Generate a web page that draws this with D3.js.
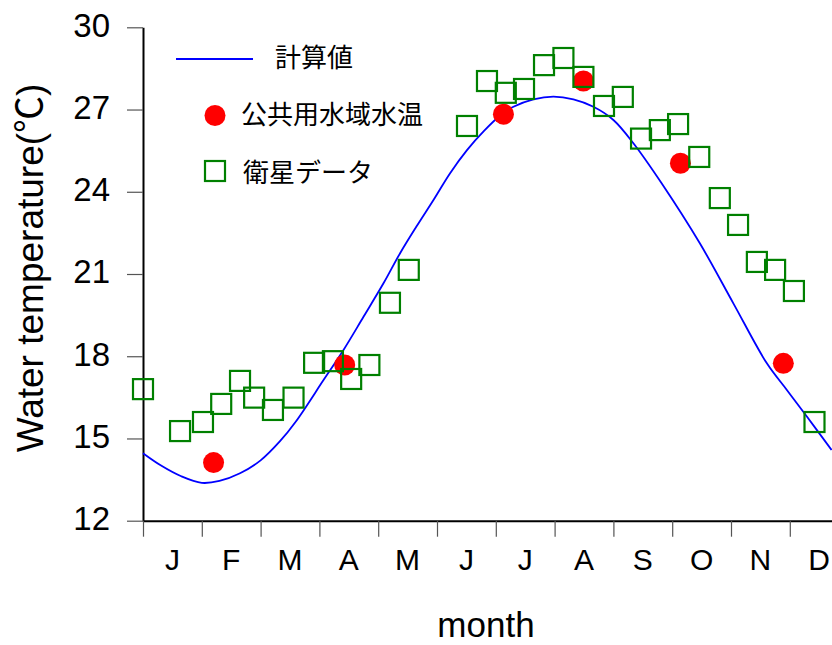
<!DOCTYPE html>
<html>
<head>
<meta charset="utf-8">
<script src="https://cdn.jsdelivr.net/npm/d3@7"></script>
<style>
  html, body { margin: 0; padding: 0; background: #fff; }
  svg { display: block; }
  text { font-family: "Liberation Sans", Arial, "Noto Sans CJK JP", sans-serif; fill: #000; }
  .jp { font-family: "Noto Sans CJK JP", sans-serif; }
</style>
</head>
<body>
<svg id="chart" width="832" height="645"></svg>
<script>
// Month initials along the x axis
const monthLabels = ["J", "F", "M", "A", "M", "J", "J", "A", "S", "O", "N", "D"];
// Temperature ticks (°C)
const tempTicks = [12, 15, 18, 21, 24, 27, 30];

// 計算値: computed water temperature, month position (0 = 1 Jan) and °C
const calcMonth = [0.00, 0.30, 0.65, 1.00, 1.30, 1.65, 2.00, 2.33, 2.60, 3.07, 3.41, 3.75, 4.09,
                   4.37, 4.65, 4.94, 5.22, 5.51, 5.80, 6.08, 6.30, 6.64, 6.98, 7.32, 7.66, 8.00,
                   8.34, 8.82, 9.47, 10.04, 10.61, 10.95, 11.29, 11.71];
const calcTemp  = [14.46, 14.02, 13.62, 13.38, 13.45, 13.73, 14.20, 14.90, 15.62, 17.13, 18.23, 19.44, 20.66,
                   21.75, 22.73, 23.70, 24.67, 25.52, 26.22, 26.79, 27.10, 27.37, 27.47, 27.37, 27.10, 26.62,
                   25.77, 24.31, 22.12, 19.93, 17.74, 16.77, 15.80, 14.58];

// 公共用水域水温: public water body measurements
const obsMonth = [1.20, 3.43, 6.13, 7.49, 9.14, 10.89];
const obsTemp  = [14.12, 17.68, 26.83, 28.04, 25.04, 17.74];

// 衛星データ: satellite-derived temperature
const satMonth = [0.00, 0.63, 1.02, 1.33, 1.65, 1.89, 2.21, 2.56, 2.91, 3.23, 3.54, 3.85, 4.20, 4.52,
                  5.51, 5.85, 6.17, 6.48, 6.82, 7.15, 7.49, 7.84, 8.16, 8.47, 8.79, 9.10, 9.46, 9.81,
                  10.12, 10.44, 10.75, 11.07, 11.42];
const satTemp  = [16.80, 15.27, 15.60, 16.26, 17.10, 16.49, 16.04, 16.49, 17.76, 17.82, 17.17, 17.68, 19.95, 21.15,
                  26.40, 28.04, 27.61, 27.75, 28.62, 28.88, 28.19, 27.13, 27.46, 25.94, 26.25, 26.47, 25.27, 23.77,
                  22.79, 21.44, 21.15, 20.38, 15.60];

const svg = d3.select("#chart");

const x = d3.scaleLinear().domain([0, 12]).range([143, 848.6]);
const y = d3.scaleLinear().domain([12, 30]).range([520.7, 27.3]);

// y axis
const yAxis = svg.append("g")
  .attr("transform", `translate(${x(0)},0)`)
  .call(d3.axisLeft(y).tickValues(tempTicks).tickSize(16).tickSizeOuter(0).tickPadding(17));
yAxis.select(".domain").attr("stroke", "#000").attr("stroke-width", 2);
yAxis.selectAll(".tick line").attr("stroke", "#555").attr("stroke-width", 1.2);
yAxis.selectAll(".tick text")
  .attr("font-size", 33).attr("font-family", "Liberation Sans, Arial, sans-serif")
  .attr("fill", "#000").attr("dy", "0.27em");

// x axis: month boundaries as ticks, initials centred in each month
const xAxis = svg.append("g")
  .attr("transform", `translate(0,${y(12)})`)
  .call(d3.axisBottom(x).tickValues(d3.range(0, 12)).tickSize(16).tickSizeOuter(0).tickFormat(""));
xAxis.select(".domain").attr("stroke", "#000").attr("stroke-width", 2);
xAxis.selectAll(".tick line").attr("stroke", "#555").attr("stroke-width", 1.2);

svg.append("g").selectAll("text")
  .data(monthLabels)
  .join("text")
  .attr("x", (d, i) => x(i + 0.5))
  .attr("y", 570)
  .attr("text-anchor", "middle")
  .attr("font-size", 30)
  .text(d => d);

// axis titles
svg.append("text")
  .attr("x", 486).attr("y", 637)
  .attr("text-anchor", "middle")
  .attr("font-size", 35)
  .text("month");

svg.append("text")
  .attr("transform", "translate(43,268) rotate(-90)")
  .attr("text-anchor", "middle")
  .attr("font-size", 37)
  .text("Water temperature(℃)");

// computed curve
const calcData = calcMonth.map((m, i) => [m, calcTemp[i]]);
svg.append("path")
  .datum(calcData)
  .attr("fill", "none")
  .attr("stroke", "#0000ff")
  .attr("stroke-width", 1.8)
  .attr("d", d3.line().x(d => x(d[0])).y(d => y(d[1])).curve(d3.curveCatmullRom.alpha(0.5)));

// observed points
svg.append("g").selectAll("circle")
  .data(obsMonth.map((m, i) => [m, obsTemp[i]]))
  .join("circle")
  .attr("cx", d => x(d[0]))
  .attr("cy", d => y(d[1]))
  .attr("r", 10.5)
  .attr("fill", "#ff0000");

// satellite squares
const sq = 20;
svg.append("g").selectAll("rect")
  .data(satMonth.map((m, i) => [m, satTemp[i]]))
  .join("rect")
  .attr("x", d => x(d[0]) - sq / 2)
  .attr("y", d => y(d[1]) - sq / 2)
  .attr("width", sq).attr("height", sq)
  .attr("fill", "none")
  .attr("stroke", "#008000")
  .attr("stroke-width", 2.2);

// legend
const legend = svg.append("g");
legend.append("line")
  .attr("x1", 176).attr("x2", 253).attr("y1", 59).attr("y2", 59)
  .attr("stroke", "#0000ff").attr("stroke-width", 1.8);
legend.append("text").attr("class", "jp")
  .attr("x", 275).attr("y", 67).attr("font-size", 26).text("計算値");
legend.append("circle")
  .attr("cx", 215).attr("cy", 115.5).attr("r", 10.5).attr("fill", "#ff0000");
legend.append("text").attr("class", "jp")
  .attr("x", 241).attr("y", 123.5).attr("font-size", 26).text("公共用水域水温");
legend.append("rect")
  .attr("x", 215 - sq / 2).attr("y", 171 - sq / 2).attr("width", sq).attr("height", sq)
  .attr("fill", "none").attr("stroke", "#008000").attr("stroke-width", 2.2);
legend.append("text").attr("class", "jp")
  .attr("x", 243).attr("y", 181.5).attr("font-size", 26).text("衛星データ");
</script>
</body>
</html>
